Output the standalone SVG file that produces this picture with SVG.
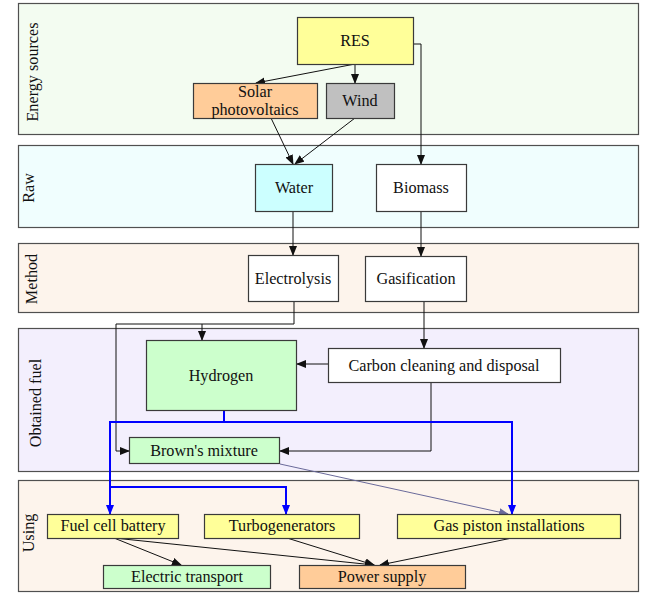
<svg xmlns="http://www.w3.org/2000/svg" width="648" height="593" viewBox="0 0 648 593">
<style>
.band{stroke:#505050;stroke-width:1.2}
.box{stroke:#3a3a3a;stroke-width:1.2}
text{font-family:"Liberation Serif","Times New Roman",serif;font-size:16.2px;fill:#111}
.lbl{text-anchor:middle}
.c{fill:none;stroke:#111;stroke-width:1}
.b{fill:none;stroke:#0000ff;stroke-width:2}
.s{fill:none;stroke:#6a6a9a;stroke-width:1}
</style>
<defs>
<marker id="ak" markerWidth="10" markerHeight="8" refX="9" refY="4" orient="auto" markerUnits="userSpaceOnUse"><path d="M0,0 L10,4 L0,8 Z" fill="#111"/></marker>
<marker id="ab" markerWidth="10" markerHeight="8" refX="9" refY="4" orient="auto" markerUnits="userSpaceOnUse"><path d="M0,0 L10,4 L0,8 Z" fill="#0000ff"/></marker>
<marker id="as" markerWidth="10" markerHeight="8" refX="9" refY="4" orient="auto" markerUnits="userSpaceOnUse"><path d="M0,0 L10,4 L0,8 Z" fill="#6a6a9a"/></marker>
</defs>
<rect width="648" height="593" fill="#ffffff"/>
<g id="bands">
<g id="band-energy"><rect class="band" x="18.5" y="3.5" width="620" height="131" fill="#f3fcf1"/><text class="lbl" transform="translate(33,72) rotate(-90)" y="5">Energy sources</text></g>
<g id="band-raw"><rect class="band" x="18.5" y="145.5" width="620" height="82" fill="#f0fefe"/><text class="lbl" transform="translate(29,188) rotate(-90)" y="5">Raw</text></g>
<g id="band-method"><rect class="band" x="18.5" y="243.5" width="620" height="69" fill="#fdf4ec"/><text class="lbl" transform="translate(32,279) rotate(-90)" y="5">Method</text></g>
<g id="band-fuel"><rect class="band" x="18.5" y="328.5" width="620" height="143" fill="#f3effd"/><text class="lbl" transform="translate(36,403) rotate(-90)" y="5">Obtained fuel</text></g>
<g id="band-using"><rect class="band" x="18.5" y="480.5" width="620" height="111" fill="#fdf4ec"/><text class="lbl" transform="translate(29,533) rotate(-90)" y="5">Using</text></g>
</g>
<g id="connectors">
<path class="c" d="M355,64 L256,83" marker-end="url(#ak)"/>
<path class="c" d="M355,64 V83" marker-end="url(#ak)"/>
<path class="c" d="M413,44 H421 V164" marker-end="url(#ak)"/>
<path class="c" d="M271,118 L293,164" marker-end="url(#ak)"/>
<path class="c" d="M355,118 L295,164" marker-end="url(#ak)"/>
<path class="c" d="M293,211 V255" marker-end="url(#ak)"/>
<path class="c" d="M421,211 V256" marker-end="url(#ak)"/>
<path class="c" d="M294,302 V324 H202 V340" marker-end="url(#ak)"/>
<path class="c" d="M202,324 H116 V451 H129" marker-end="url(#ak)"/>
<path class="c" d="M424,302 V348" marker-end="url(#ak)"/>
<path class="c" d="M328,364 H297" marker-end="url(#ak)"/>
<path class="c" d="M431,383 V451 H280" marker-end="url(#ak)"/>
<path class="b" d="M224,410 V422 H110 V514" marker-end="url(#ab)"/>
<path class="b" d="M224,422 H512 V514" marker-end="url(#ab)"/>
<path class="b" d="M110,487 H286 V514" marker-end="url(#ab)"/>
<path class="s" d="M280,464 L508,514" marker-end="url(#as)"/>
<path class="c" d="M114,538 L181,565" marker-end="url(#ak)"/>
<path class="c" d="M114,538 L374,565" marker-end="url(#ak)"/>
<path class="c" d="M287,538 L374,565" marker-end="url(#ak)"/>
<path class="c" d="M512,538 L380,565" marker-end="url(#ak)"/>
</g>
<g id="res"><rect class="box" x="297.5" y="17.5" width="116" height="47" fill="#ffff99"/><text class="lbl" x="355" y="46">RES</text></g>
<g id="solar"><rect class="box" x="193.5" y="83.5" width="124" height="35" fill="#ffcc99"/><text class="lbl" x="255" y="97">Solar</text><text class="lbl" x="255" y="115">photovoltaics</text></g>
<g id="wind"><rect class="box" x="326.5" y="83.5" width="68" height="35" fill="#c0c0c0"/><text class="lbl" x="360" y="106">Wind</text></g>
<g id="water"><rect class="box" x="255.5" y="164.5" width="77" height="47" fill="#ccffff"/><text class="lbl" x="294" y="193">Water</text></g>
<g id="biomass"><rect class="box" x="376.5" y="164.5" width="90" height="47" fill="#ffffff"/><text class="lbl" x="421" y="193">Biomass</text></g>
<g id="electrolysis"><rect class="box" x="248.5" y="255.5" width="90" height="46" fill="#ffffff"/><text class="lbl" x="293" y="284">Electrolysis</text></g>
<g id="gasification"><rect class="box" x="365.5" y="256.5" width="101" height="45" fill="#ffffff"/><text class="lbl" x="416" y="284">Gasification</text></g>
<g id="hydrogen"><rect class="box" x="146.5" y="340.5" width="150" height="70" fill="#ccffcc"/><text class="lbl" x="221" y="381">Hydrogen</text></g>
<g id="carbon"><rect class="box" x="328.5" y="348.5" width="232" height="34" fill="#ffffff"/><text class="lbl" x="444" y="371">Carbon cleaning and disposal</text></g>
<g id="browns"><rect class="box" x="129.5" y="437.5" width="150" height="26" fill="#ccffcc"/><text class="lbl" x="204" y="456">Brown's mixture</text></g>
<g id="fuelcell"><rect class="box" x="47.5" y="514.5" width="131" height="24" fill="#ffff99"/><text class="lbl" x="113" y="531">Fuel cell battery</text></g>
<g id="turbo"><rect class="box" x="204.5" y="514.5" width="155" height="24" fill="#ffff99"/><text class="lbl" x="282" y="531">Turbogenerators</text></g>
<g id="gaspiston"><rect class="box" x="397.5" y="514.5" width="223" height="24" fill="#ffff99"/><text class="lbl" x="509" y="531">Gas piston installations</text></g>
<g id="electric"><rect class="box" x="103.5" y="565.5" width="167" height="23" fill="#ccffcc"/><text class="lbl" x="187" y="582">Electric transport</text></g>
<g id="power"><rect class="box" x="299.5" y="565.5" width="166" height="23" fill="#ffcc99"/><text class="lbl" x="382" y="582">Power supply</text></g>
</svg>
